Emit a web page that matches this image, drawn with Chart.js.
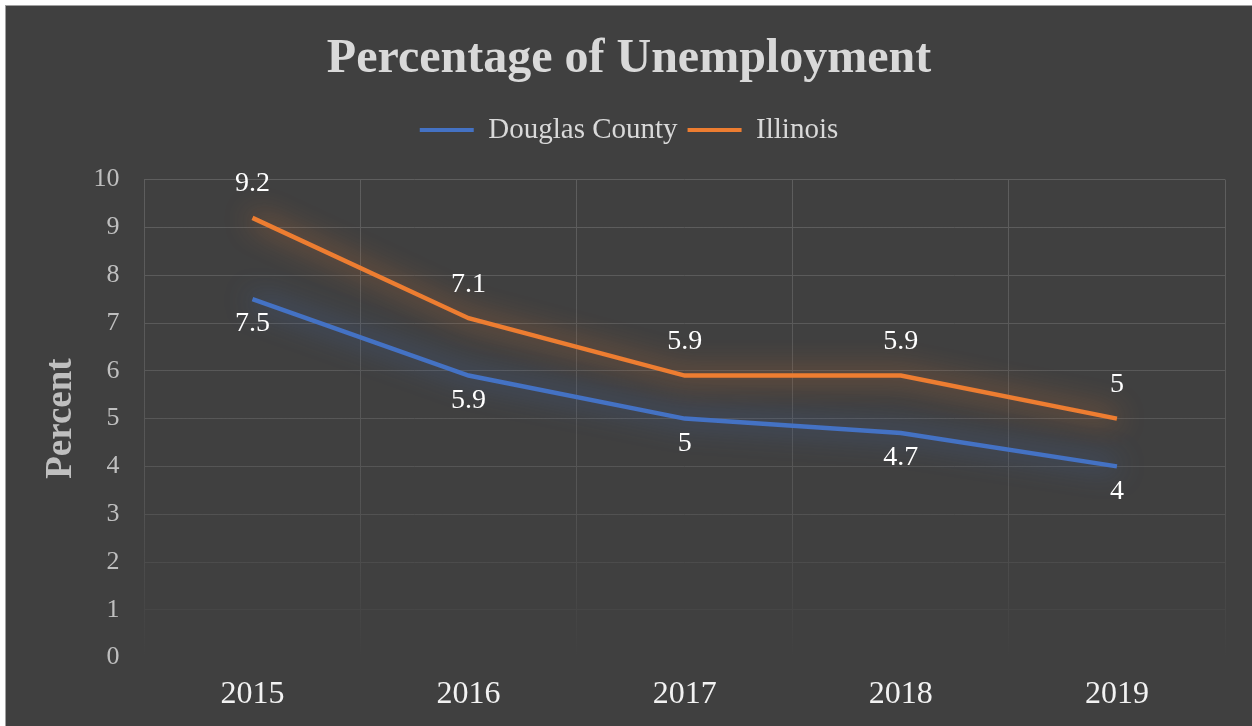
<!DOCTYPE html>
<html>
<head>
<meta charset="utf-8">
<script src="https://cdn.jsdelivr.net/npm/chart.js@4.4.1/dist/chart.umd.min.js"></script>
<style>
    html, body { margin: 0; padding: 0; background: #ffffff; overflow: hidden; }
    #frame {
        position: absolute; left: 5px; top: 5px;
        width: 1247px; height: 721px;
        border-left: 1px solid #a0a0a0; border-top: 1px solid #a0a0a0;
        background: #404040;
    }
    canvas { display: block; }
</style>
</head>
<body>
<div id="frame"><canvas id="myChart" width="1246" height="720"></canvas></div>
<script>
var years = ['2015', '2016', '2017', '2018', '2019'];
var douglasCounty = [7.5, 5.9, 5, 4.7, 4];
var illinois = [9.2, 7.1, 5.9, 5.9, 5];
var yTicks = [0, 1, 2, 3, 4, 5, 6, 7, 8, 9, 10];

var serif = '"Liberation Serif", "Times New Roman", serif';

// soft glow under each line
var glowPlugin = {
    id: 'glow',
    beforeDatasetDraw: function(chart, args) {
        var ds = chart.data.datasets[args.index];
        chart.ctx.save();
        chart.ctx.shadowColor = ds.glowColor;
        chart.ctx.shadowBlur = 28;
    },
    afterDatasetDraw: function(chart) {
        chart.ctx.restore();
    }
};

// value labels above / below the points
var valueLabels = {
    id: 'valueLabels',
    afterDatasetsDraw: function(chart) {
        var ctx = chart.ctx;
        ctx.save();
        ctx.font = '28px ' + serif;
        ctx.fillStyle = '#ffffff';
        ctx.textAlign = 'center';
        ctx.textBaseline = 'middle';
        chart.data.datasets.forEach(function(ds, i) {
            var meta = chart.getDatasetMeta(i);
            meta.data.forEach(function(pt, j) {
                var dy = ds.labelAbove ? -34 : 25;
                ctx.fillText(String(ds.data[j]), pt.x, pt.y + dy);
            });
        });
        ctx.restore();
    }
};

// extra room between legend and plot
var legendGap = {
    id: 'legendGap',
    beforeInit: function(chart) {
        var fit = chart.legend.fit;
        chart.legend.fit = function() {
            fit.call(this);
            this.height += 25;
        };
    }
};

function gridColor(context) {
    var area = context.chart.chartArea;
    if (!area) return '#595959';
    var g = context.chart.ctx.createLinearGradient(0, area.top, 0, area.bottom);
    g.addColorStop(0, '#5e5e5e');
    g.addColorStop(0.65, '#555555');
    g.addColorStop(1, '#404040');
    return g;
}

var ctx = document.getElementById('myChart').getContext('2d');
var myChart = new Chart(ctx, {
    type: 'line',
    data: {
        labels: years,
        datasets: [
            {
                label: 'Douglas County',
                data: douglasCounty,
                borderColor: '#4472C4',
                backgroundColor: '#4472C4',
                glowColor: 'rgba(68, 114, 196, 0.95)',
                borderWidth: 4.5,
                pointRadius: 0,
                tension: 0,
                fill: false,
                labelAbove: false
            },
            {
                label: 'Illinois',
                data: illinois,
                borderColor: '#ED7D31',
                backgroundColor: '#ED7D31',
                glowColor: 'rgba(237, 125, 49, 0.95)',
                borderWidth: 4.5,
                pointRadius: 0,
                tension: 0,
                fill: false,
                labelAbove: true
            }
        ]
    },
    options: {
        responsive: false,
        animation: false,
        layout: { padding: { left: 27, right: 27, top: 0, bottom: 12 } },
        plugins: {
            tooltip: { enabled: false },
            title: {
                display: true,
                text: 'Percentage of Unemployment',
                color: '#d9d9d9',
                font: { family: serif, size: 48, weight: 'bold' },
                padding: { top: 25, bottom: 17 }
            },
            legend: {
                display: true,
                position: 'top',
                labels: {
                    color: '#d9d9d9',
                    font: { family: serif, size: 29 },
                    boxWidth: 54,
                    boxHeight: 4,
                    padding: 10,
                    generateLabels: function(chart) {
                        return Chart.defaults.plugins.legend.labels.generateLabels(chart).map(function(l) {
                            l.lineWidth = 0;
                            l.fillStyle = l.strokeStyle;
                            return l;
                        });
                    }
                }
            }
        },
        scales: {
            x: {
                offset: true,
                border: { display: false },
                grid: { offset: true, color: gridColor, lineWidth: 1, drawTicks: false },
                ticks: {
                    color: '#f2f2f2',
                    font: { family: serif, size: 32 },
                    padding: 18
                },
                afterFit: function(scale) { scale.height -= 18; }
            },
            y: {
                min: yTicks[0],
                max: yTicks[yTicks.length - 1],
                border: { display: false },
                grid: { color: gridColor, lineWidth: 1, drawTicks: false },
                ticks: {
                    stepSize: 1,
                    color: '#bfbfbf',
                    font: { family: serif, size: 26 },
                    padding: 25
                },
                afterFit: function(scale) { scale.width -= 25; },
                title: {
                    display: true,
                    text: 'Percent',
                    color: '#bfbfbf',
                    font: { family: serif, size: 37, weight: 'bold' },
                    padding: { top: 6, bottom: 10 }
                }
            }
        }
    },
    plugins: [glowPlugin, valueLabels, legendGap]
});
</script>
</body>
</html>
